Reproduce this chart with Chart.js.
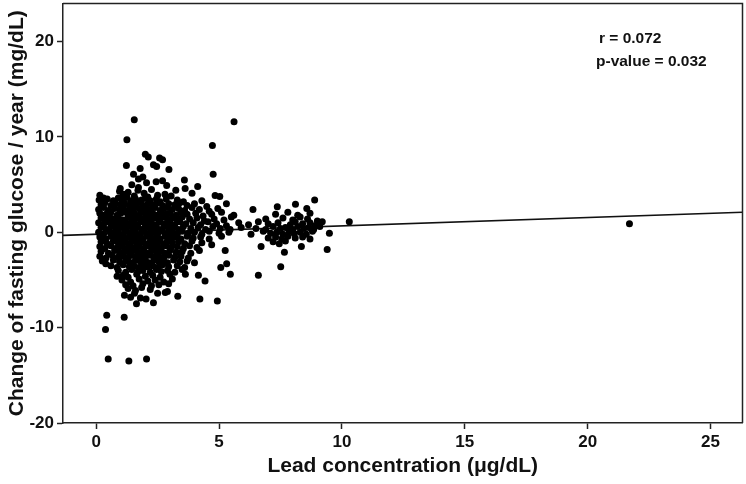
<!DOCTYPE html>
<html><head><meta charset="utf-8">
<script src="https://cdn.jsdelivr.net/npm/chart.js@4"></script>
<style>html,body{margin:0;padding:0;background:#fff}#wrap{width:746px;height:484px}</style>
</head><body><div id="wrap"><canvas id="c" width="746" height="484"></canvas></div>
<script>
// x ticks and y ticks
const xTicks = [0, 5, 10, 15, 20, 25];
const yTicks = [-20, -10, 0, 10, 20];
const statLines = ["r = 0.072", "p-value = 0.032"];
// regression line endpoints [lead, change]
const fitLine = [[-1.35, -0.32], [26.3, 2.11]];

// points: [lead concentration, change of fasting glucose/year]
const upperPoints = [[1.55,11.8],[5.61,11.6],[1.25,9.7],[4.73,9.1],[2.0,8.2],[2.12,7.9],[2.7,7.6],[2.58,7.8],[2.33,7.1],[2.46,6.9],[1.79,6.7],[1.23,7.0],[2.96,6.6],[4.76,6.1],[1.52,6.1],[3.59,5.5],[2.7,5.4],[1.72,5.6],[1.9,5.8],[2.05,5.2],[2.44,5.3],[2.87,4.9],[1.45,5.0],[1.72,4.7],[4.13,4.8],[3.62,4.6],[0.98,4.6],
[0.15,3.9],[0.3,3.6],[0.95,4.3],[1.1,4.0],[1.3,4.2],[1.55,3.8],[1.7,4.4],[1.95,4.1],[2.25,4.5],[2.5,3.9],[2.8,4.0],[3.24,4.4],[3.9,4.1],[3.05,3.8],[2.1,3.7],
[0.12,3.4],[0.25,3.2],[0.45,3.5],[0.7,3.3],[0.9,3.6],[1.05,3.4],[1.25,3.7],[1.4,3.3],[1.6,3.5],[1.85,3.4],[2.0,3.6],[2.2,3.3],[2.45,3.5],[2.6,3.2],[2.85,3.5],[3.3,3.4],[3.55,3.2],[4.84,3.85],[5.03,3.75],[4.3,3.3],
[0.2,2.9],[0.35,3.1],[0.6,2.8],[0.8,3.0],[1.0,2.9],[1.15,3.1],[1.35,2.8],[1.5,3.0],[1.7,3.1],[1.9,2.8],[2.1,3.0],[2.3,2.9],[2.5,3.1],[2.7,2.8],[2.95,3.0],[3.2,2.9],[3.4,3.1],[3.7,2.8],[4.0,3.0],[4.5,2.7],[5.3,3.0],[8.11,2.95],[8.89,3.4]];

const midPoints = [[0.1,2.4],[0.3,2.6],[0.5,2.3],[0.75,2.5],[0.95,2.4],[1.1,2.6],[1.3,2.3],[1.5,2.5],[1.65,2.6],[1.8,2.3],[2.0,2.5],[2.2,2.4],[2.4,2.6],[2.6,2.3],[2.75,2.5],[2.9,2.6],[3.1,2.4],[3.35,2.5],[3.6,2.3],[3.9,2.6],[4.2,2.4],[4.6,2.2],[4.95,2.5],[6.38,2.4],[7.37,2.67],[8.57,2.5],
[0.15,2.0],[0.4,1.9],[0.6,2.1],[0.85,1.8],[1.0,2.0],[1.2,2.1],[1.4,1.9],[1.55,2.0],[1.75,1.8],[1.95,2.1],[2.1,1.9],[2.3,2.0],[2.5,1.8],[2.65,2.1],[2.85,1.9],[3.0,2.0],[3.25,1.8],[3.45,2.1],[3.7,1.9],[4.05,2.0],[4.35,1.7],[4.7,1.9],[5.1,2.1],[5.6,1.8],[7.3,1.9],[7.8,2.1],[8.2,1.8],[8.7,2.0],
[0.2,1.5],[0.35,1.3],[0.55,1.6],[0.7,1.4],[0.9,1.5],[1.1,1.3],[1.3,1.6],[1.45,1.4],[1.6,1.5],[1.8,1.3],[2.0,1.6],[2.15,1.4],[2.35,1.5],[2.55,1.3],[2.7,1.6],[2.9,1.4],[3.1,1.5],[3.3,1.3],[3.5,1.6],[3.8,1.4],[4.1,1.5],[4.4,1.2],[4.8,1.4],[5.2,1.3],[5.5,1.6],[6.9,1.4],[7.6,1.5],[8.0,1.3],[8.3,1.6],[8.6,1.4],[9.0,1.2],
[0.1,1.0],[0.3,0.8],[0.5,1.1],[0.65,0.9],[0.85,1.0],[1.05,0.8],[1.2,1.1],[1.4,0.9],[1.55,1.0],[1.7,0.8],[1.9,1.1],[2.05,0.9],[2.25,1.0],[2.45,0.8],[2.6,1.1],[2.8,0.9],[3.0,1.0],[3.2,0.8],[3.4,1.1],[3.65,0.9],[3.95,1.0],[4.25,0.8],[4.55,1.1],[4.9,0.9],[5.3,0.7],[5.8,1.0],[6.2,0.8],[6.6,1.1],[7.0,0.9],[7.4,1.0],[7.9,0.8],[8.1,1.1],[8.4,0.9],[8.7,1.0],[8.9,0.7],[9.2,1.1],[10.3,1.1],
[0.2,0.5],[0.4,0.3],[0.6,0.6],[0.8,0.4],[0.95,0.5],[1.15,0.3],[1.3,0.6],[1.5,0.4],[1.65,0.5],[1.85,0.3],[2.0,0.6],[2.2,0.4],[2.4,0.5],[2.55,0.3],[2.75,0.6],[2.95,0.4],[3.15,0.5],[3.35,0.3],[3.55,0.6],[3.85,0.4],[4.15,0.5],[4.45,0.3],[4.75,0.6],[5.05,0.4],[5.45,0.3],[5.9,0.5],[6.5,0.4],[6.9,0.3],[7.2,0.6],[7.5,0.4],[7.7,0.5],[8.0,0.3],[8.2,0.6],[8.45,0.4],[8.65,0.5],[8.85,0.3],[9.1,0.6],
[0.1,0.0],[0.3,-0.2],[0.55,0.1],[0.75,-0.1],[0.9,0.0],[1.1,-0.2],[1.25,0.1],[1.45,-0.1],[1.6,0.0],[1.8,-0.2],[1.95,0.1],[2.15,-0.1],[2.35,0.0],[2.5,-0.2],[2.7,0.1],[2.9,-0.1],[3.1,0.0],[3.3,-0.2],[3.5,0.1],[3.75,-0.1],[4.0,0.0],[4.3,-0.2],[4.6,0.1],[5.0,-0.1],[5.4,0.0],[6.3,-0.2],[6.8,0.1],[7.1,-0.1],[7.35,0.0],[7.6,-0.2],[7.85,0.1],[8.05,-0.1],[8.3,0.0],[8.55,-0.2],[8.8,0.1],[9.49,-0.1]];

const lowerPoints = [[0.15,-0.5],[0.4,-0.7],[0.6,-0.4],[0.8,-0.6],[1.0,-0.5],[1.2,-0.7],[1.35,-0.4],[1.55,-0.6],[1.7,-0.5],[1.9,-0.7],[2.05,-0.4],[2.25,-0.6],[2.45,-0.5],[2.6,-0.7],[2.8,-0.4],[3.0,-0.6],[3.2,-0.5],[3.45,-0.7],[3.7,-0.4],[3.95,-0.6],[4.25,-0.5],[4.6,-0.7],[5.1,-0.4],[7.0,-0.6],[7.3,-0.5],[7.55,-0.7],[7.8,-0.4],[8.1,-0.6],[8.4,-0.5],[8.7,-0.7],
[0.2,-1.0],[0.45,-1.2],[0.7,-0.9],[0.9,-1.1],[1.1,-1.0],[1.3,-1.2],[1.45,-0.9],[1.65,-1.1],[1.8,-1.0],[2.0,-1.2],[2.2,-0.9],[2.35,-1.1],[2.55,-1.0],[2.75,-1.2],[2.9,-0.9],[3.1,-1.1],[3.35,-1.0],[3.6,-1.2],[3.9,-0.9],[4.3,-1.1],[4.7,-1.3],[6.71,-1.5],[7.2,-1.0],[7.45,-1.2],[7.7,-0.9],[8.35,-1.5],[9.4,-1.8],
[0.15,-1.5],[0.35,-1.7],[0.6,-1.4],[0.85,-1.6],[1.05,-1.5],[1.25,-1.7],[1.4,-1.4],[1.6,-1.6],[1.75,-1.5],[1.95,-1.7],[2.1,-1.4],[2.3,-1.6],[2.5,-1.5],[2.65,-1.7],[2.85,-1.4],[3.05,-1.6],[3.3,-1.5],[3.55,-1.7],[3.8,-1.4],[4.1,-1.6],[5.25,-1.9],[7.66,-2.1],
[0.2,-2.0],[0.5,-2.2],[0.75,-1.9],[0.95,-2.1],[1.15,-2.0],[1.35,-2.2],[1.5,-1.9],[1.7,-2.1],[1.9,-2.0],[2.05,-2.2],[2.25,-1.9],[2.45,-2.1],[2.6,-2.0],[2.8,-2.2],[3.0,-1.9],[3.25,-2.1],[3.5,-2.0],[3.85,-2.2],[4.2,-1.9],
[0.15,-2.5],[0.4,-2.7],[0.65,-2.4],[0.9,-2.6],[1.1,-2.5],[1.3,-2.7],[1.45,-2.4],[1.65,-2.6],[1.85,-2.5],[2.0,-2.7],[2.2,-2.4],[2.4,-2.6],[2.55,-2.5],[2.75,-2.7],[2.95,-2.4],[3.2,-2.6],[3.45,-2.5],[3.75,-2.7],
[0.25,-3.0],[0.39,-3.3],[0.7,-2.9],[0.95,-3.1],[1.2,-3.0],[1.4,-3.2],[1.6,-2.9],[1.8,-3.1],[2.0,-3.0],[2.15,-3.2],[2.35,-2.9],[2.55,-3.1],[2.7,-3.0],[2.9,-3.2],[3.15,-2.9],[3.4,-3.1],[3.7,-3.0],[4.0,-3.2],[5.31,-3.3],
[0.6,-3.5],[0.85,-3.7],[1.1,-3.4],[1.35,-3.6],[1.55,-3.5],[1.75,-3.7],[1.95,-3.4],[2.1,-3.6],[2.3,-3.5],[2.5,-3.7],[2.7,-3.4],[2.95,-3.6],[3.3,-3.5],[3.6,-3.7],[5.07,-3.7],[7.51,-3.6],
[0.9,-4.0],[1.2,-4.2],[1.45,-3.9],[1.7,-4.1],[1.9,-4.0],[2.2,-4.2],[2.45,-3.9],[2.65,-4.1],[2.9,-4.0],[3.2,-4.2],[3.5,-3.9],
[0.85,-4.6],[1.1,-4.5],[1.3,-4.7],[1.65,-4.4],[2.0,-4.6],[2.3,-4.5],[2.6,-4.7],[3.0,-4.4],[3.63,-4.4],[4.16,-4.5],[5.46,-4.4],[6.6,-4.5],
[1.05,-5.0],[1.4,-5.2],[1.75,-4.9],[2.1,-5.1],[2.4,-5.0],[2.75,-5.2],[3.1,-4.9],[4.43,-5.1],
[1.2,-5.5],[1.5,-5.6],[1.9,-5.4],[2.25,-5.6],[2.55,-5.5],[2.95,-5.4],
[1.3,-5.9],[1.6,-6.1],[1.85,-5.8],[2.2,-6.0],[2.5,-6.4],[2.81,-6.3],[2.9,-6.2],[1.56,-6.4],
[1.15,-6.6],[1.64,-7.5],[2.03,-7.0],[2.33,-7.4],[3.32,-6.7],[4.22,-7.0],[4.93,-7.2],[1.4,-6.8],[1.8,-6.9]];

const outlierPoints = [[0.43,-8.7],[1.14,-8.9],[0.38,-10.2],[0.49,-13.3],[1.33,-13.5],[2.05,-13.3],[21.7,0.9]];

const allPoints = upperPoints.concat(midPoints, lowerPoints, outlierPoints).map(p => ({x: p[0], y: p[1]}));

const BOLD = "'Liberation Sans', Arial, sans-serif";
const NARROW = "'Liberation Sans Narrow', 'Liberation Sans', Arial, sans-serif";

const framePlugin = {
  id: 'frame',
  afterDraw(chart) {
    const {ctx, chartArea: a} = chart;
    ctx.save();
    ctx.strokeStyle = '#222';
    ctx.lineWidth = 1.5;
    ctx.beginPath();
    ctx.moveTo(a.left, a.top); ctx.lineTo(a.right, a.top); ctx.lineTo(a.right, a.bottom);
    ctx.stroke();
    ctx.fillStyle = '#111';
    ctx.font = "bold 15.5px " + BOLD;
    ctx.textBaseline = 'middle';
    ctx.textAlign = 'left';
    ctx.fillText(statLines[0], a.left + 536, a.top + 35);
    ctx.fillText(statLines[1], a.left + 533, a.top + 58);
    ctx.restore();
  }
};

new Chart(document.getElementById('c'), {
  type: 'scatter',
  data: {
    datasets: [
      {
        data: allPoints,
        backgroundColor: '#000',
        borderColor: '#000',
        pointRadius: 3.5,
        pointHoverRadius: 3.5,
        borderWidth: 0
      },
      {
        type: 'line',
        data: fitLine.map(p => ({x: p[0], y: p[1]})),
        borderColor: '#111',
        borderWidth: 1.6,
        pointRadius: 0,
        fill: false
      }
    ]
  },
  options: {
    responsive: false,
    animation: false,
    events: [],
    layout: {padding: {top: 1, right: 3, left: 0, bottom: 0}},
    plugins: {legend: {display: false}, tooltip: {enabled: false}},
    scales: {
      x: {
        type: 'linear', min: -1.35, max: 26.3,
        afterFit(s) { s.height = 61; s.paddingLeft = 0; s.paddingRight = 0; },
        afterBuildTicks(s) { s.ticks = xTicks.map(v => ({value: v})); },
        border: {color: '#222', width: 1.5},
        grid: {drawOnChartArea: false, drawTicks: true, tickLength: 6, color: '#222', tickWidth: 1.5},
        ticks: {color: '#111', padding: 3, font: {family: NARROW, size: 17, weight: 'bold'}},
        title: {display: true, text: 'Lead concentration (μg/dL)', color: '#111', padding: {top: 0, bottom: 5}, font: {family: BOLD, size: 21, weight: 'bold'}}
      },
      y: {
        type: 'linear', min: -20, max: 24,
        afterFit(s) { s.width = 63; s.paddingTop = 0; s.paddingBottom = 0; },
        afterBuildTicks(s) { s.ticks = yTicks.map(v => ({value: v})); },
        border: {color: '#222', width: 1.5},
        grid: {drawOnChartArea: false, drawTicks: true, tickLength: 6, color: '#222', tickWidth: 1.5},
        ticks: {color: '#111', padding: 3, font: {family: NARROW, size: 17, weight: 'bold'}},
        title: {display: true, text: 'Change of fasting glucose / year (mg/dL)', color: '#111', padding: {top: 5, bottom: 0}, font: {family: BOLD, size: 21, weight: 'bold'}}
      }
    }
  },
  plugins: [framePlugin]
});
</script>
</body></html>
